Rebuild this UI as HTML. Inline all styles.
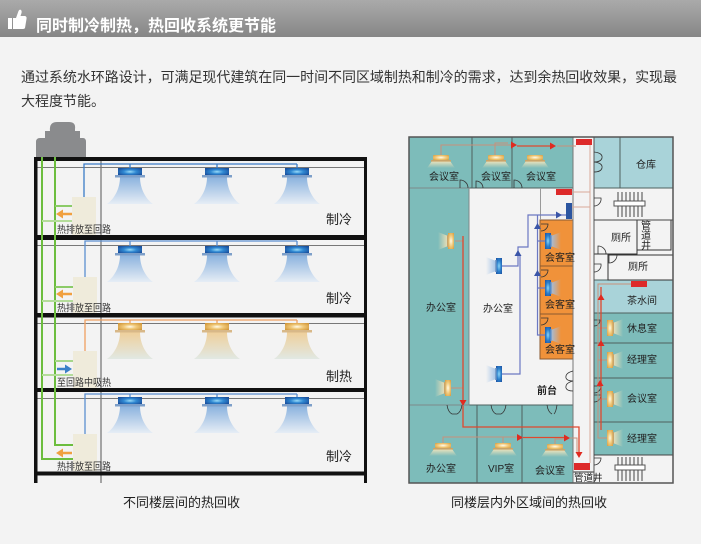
<!DOCTYPE html>
<html><head><meta charset="utf-8">
<style>
html,body{margin:0;padding:0;background:#f3f3f3;width:701px;height:544px;overflow:hidden}
svg{display:block}
text{font-family:"Liberation Sans","Noto Sans CJK SC",sans-serif}
</style></head><body>
<svg width="701" height="544" viewBox="0 0 701 544" xmlns="http://www.w3.org/2000/svg">
<defs>
<linearGradient id="hdr" x1="0" y1="0" x2="0" y2="1"><stop offset="0" stop-color="#aaaaaa"/><stop offset="1" stop-color="#868686"/></linearGradient>
<radialGradient id="bb" cx="0.5" cy="0.5" r="0.6"><stop offset="0" stop-color="#9adcf8"/><stop offset="0.45" stop-color="#2f88d2"/><stop offset="1" stop-color="#1a4f9c"/></radialGradient>
<linearGradient id="bc" x1="0" y1="0" x2="0" y2="1"><stop offset="0" stop-color="#8ab2de"/><stop offset="1" stop-color="#e6edf5"/></linearGradient>
<radialGradient id="hb" cx="0.5" cy="0.5" r="0.6"><stop offset="0" stop-color="#fffbea"/><stop offset="0.45" stop-color="#f0c878"/><stop offset="1" stop-color="#d39a3e"/></radialGradient>
<linearGradient id="hc" x1="0" y1="0" x2="0" y2="1"><stop offset="0" stop-color="#efcf9a"/><stop offset="1" stop-color="#e1e8e3"/></linearGradient>
<linearGradient id="tg" x1="0" y1="0" x2="0" y2="1"><stop offset="0" stop-color="#f6e6bc" stop-opacity="0.95"/><stop offset="1" stop-color="#f6e6bc" stop-opacity="0"/></linearGradient>
<linearGradient id="gl" x1="1" y1="0" x2="0" y2="0"><stop offset="0" stop-color="#f3e2b8" stop-opacity="0.95"/><stop offset="1" stop-color="#f3e2b8" stop-opacity="0"/></linearGradient>
<linearGradient id="gr" x1="0" y1="0" x2="1" y2="0"><stop offset="0" stop-color="#f3e2b8" stop-opacity="0.95"/><stop offset="1" stop-color="#f3e2b8" stop-opacity="0"/></linearGradient>
<linearGradient id="bgl" x1="1" y1="0" x2="0" y2="0"><stop offset="0" stop-color="#9fc0e6" stop-opacity="0.95"/><stop offset="1" stop-color="#9fc0e6" stop-opacity="0"/></linearGradient>
<linearGradient id="bgr" x1="0" y1="0" x2="1" y2="0"><stop offset="0" stop-color="#9fc0e6" stop-opacity="0.95"/><stop offset="1" stop-color="#9fc0e6" stop-opacity="0"/></linearGradient>
<radialGradient id="sbb" cx="0.5" cy="0.5" r="0.7"><stop offset="0" stop-color="#8fd8f8"/><stop offset="0.5" stop-color="#2a7fcc"/><stop offset="1" stop-color="#1d4f9e"/></radialGradient>
<radialGradient id="shb" cx="0.5" cy="0.5" r="0.7"><stop offset="0" stop-color="#fffbea"/><stop offset="0.5" stop-color="#f0c878"/><stop offset="1" stop-color="#d49a3e"/></radialGradient>

<g id="cu">
<path d="M-10,9 C-10,22 -17,32 -23,36 L23,36 C17,32 10,22 10,9 Z" fill="url(#bc)"/>
<rect x="-12" y="0" width="24" height="7.5" fill="url(#bb)"/>
<rect x="-15" y="7" width="30" height="2.5" fill="#7d9fc9"/>
</g>
<g id="hu">
<path d="M-10,9 C-10,22 -17,32 -23,36 L23,36 C17,32 10,22 10,9 Z" fill="url(#hc)"/>
<rect x="-12" y="0" width="24" height="7.5" fill="url(#hb)"/>
<rect x="-15" y="7" width="30" height="2.5" fill="#d8b888"/>
</g>
<g id="tu">
<path d="M-9,6 L9,6 L14,13 L-14,13 Z" fill="url(#tg)"/>
<rect x="-8" y="0" width="16" height="5" rx="1" fill="url(#shb)"/>
<rect x="-10" y="5" width="20" height="1.6" fill="#c9a46a"/>
</g>
<g id="sl">
<path d="M0,-5 L-10,-9 L-10,9 L0,5 Z" fill="url(#gl)"/>
<rect x="0" y="-8" width="6" height="16" fill="url(#shb)"/>
<rect x="-1" y="-6" width="1.5" height="12" fill="#c9a46a"/>
</g>
<g id="sr">
<path d="M0,-5 L10,-9 L10,9 L0,5 Z" fill="url(#gr)"/>
<rect x="-6" y="-8" width="6" height="16" fill="url(#shb)"/>
<rect x="-0.5" y="-6" width="1.5" height="12" fill="#c9a46a"/>
</g>
<g id="bl">
<path d="M0,-5 L-10,-9 L-10,9 L0,5 Z" fill="url(#bgl)"/>
<rect x="0" y="-8" width="6" height="16" fill="url(#sbb)"/>
<rect x="-1" y="-6" width="1.5" height="12" fill="#7d9fc9"/>
</g>
<g id="br">
<path d="M0,-5 L10,-9 L10,9 L0,5 Z" fill="url(#bgr)"/>
<rect x="-6" y="-8" width="6" height="16" fill="url(#sbb)"/>
<rect x="-0.5" y="-6" width="1.5" height="12" fill="#7d9fc9"/>
</g>
</defs>

<!-- header -->
<rect x="0" y="0" width="701" height="37" fill="url(#hdr)"/>
<path d="M8,18 H12 V29 H8 Z M13,18 L16,18 L18.5,11 Q19.5,9 21,10 Q22,11 21.5,13 L20.5,16 L25,16 Q27,16.5 26.5,19 L25,28 Q24.5,29 23,29 L13,29 Z" fill="#fff"/>
<text x="36" y="31" font-size="16" font-weight="bold" fill="#fff" textLength="240" lengthAdjust="spacingAndGlyphs">同时制冷制热，热回收系统更节能</text>

<!-- paragraph -->
<text x="21" y="82" font-size="14" fill="#333" textLength="656" lengthAdjust="spacing">通过系统水环路设计，可满足现代建筑在同一时间不同区域制热和制冷的需求，达到余热回收效果，实现最</text>
<text x="21" y="106" font-size="14" fill="#333">大程度节能。</text>

<!-- ================= LEFT DIAGRAM ================= -->
<path d="M50,131 Q49,122 57,122 L69,122 Q76,122 75,129 L75,131 L80,131 L80,138 L83,138 Q86,138 86,142 L86,157 L36,157 L36,142 Q36,138 40,138 L45,138 L45,131 Z" fill="#8a8b8d"/>

<line x1="101" y1="157" x2="101" y2="483" stroke="#8a8a8a" stroke-width="1.5"/>
<g stroke="#777" stroke-width="1">
<line x1="37" y1="167.5" x2="364" y2="167.5"/>
<line x1="37" y1="245.5" x2="364" y2="245.5"/>
<line x1="37" y1="323.5" x2="364" y2="323.5"/>
<line x1="37" y1="398.5" x2="364" y2="398.5"/>
</g>
<g fill="#111">
<rect x="34" y="157" width="333" height="4"/>
<rect x="34" y="235" width="333" height="5"/>
<rect x="34" y="313" width="333" height="4.5"/>
<rect x="34" y="388" width="333" height="4"/>
<rect x="34" y="471.5" width="333" height="4"/>
<rect x="34" y="157" width="3.5" height="326"/>
<rect x="364" y="157" width="3" height="326"/>
</g>

<g fill="none" stroke-width="2">
<path d="M42,157 V459 H73" stroke="#6cbd3e"/>
<path d="M55,157 V445 H73" stroke="#6cbd3e"/>
<path d="M55,206 H72" stroke="#8ccb68"/>
<path d="M42,221 H72" stroke="#b4dc9a"/>
<path d="M55,287 H73" stroke="#8ccb68"/>
<path d="M42,301 H73" stroke="#b4dc9a"/>
<path d="M55,361 H73" stroke="#a6d68a"/>
<path d="M42,375 H73" stroke="#b4dc9a"/>
</g>

<g fill="none" stroke-width="1.3">
<path d="M84,197 V164 H297 M130,164 V168 M217,164 V168 M297,164 V168" stroke="#3b7cc6"/>
<path d="M85,277 V241 H297 M130,241 V246 M217,241 V246 M297,241 V246" stroke="#5b8fd0"/>
<path d="M85,351 V320 H297 M130,320 V323 M217,320 V323 M297,320 V323" stroke="#f0a060"/>
<path d="M85,434 V394 H297 M130,394 V397 M217,394 V397 M297,394 V397" stroke="#5b8fd0"/>
</g>

<use href="#cu" x="130" y="168"/><use href="#cu" x="217" y="168"/><use href="#cu" x="297" y="168"/>
<use href="#cu" x="130" y="246"/><use href="#cu" x="217" y="246"/><use href="#cu" x="297" y="246"/>
<use href="#hu" x="130" y="323"/><use href="#hu" x="217" y="323"/><use href="#hu" x="297" y="323"/>
<use href="#cu" x="130" y="397"/><use href="#cu" x="217" y="397"/><use href="#cu" x="297" y="397"/>

<g fill="#efebdb">
<rect x="72" y="197" width="24" height="38"/>
<rect x="73" y="277" width="24" height="36"/>
<rect x="73" y="351" width="24" height="37"/>
<rect x="73" y="434" width="24" height="37"/>
</g>

<g stroke-width="2.5">
<line x1="62" y1="214" x2="72" y2="214" stroke="#f0a040"/>
<line x1="62" y1="294" x2="72" y2="294" stroke="#f0a040"/>
<line x1="57" y1="369" x2="66" y2="369" stroke="#3a80c8"/>
<line x1="62" y1="453" x2="72" y2="453" stroke="#f0a040"/>
</g>
<polygon points="56,214 63,209.5 63,218.5" fill="#f0a040"/>
<polygon points="56,294 63,289.5 63,298.5" fill="#f0a040"/>
<polygon points="72,369 65,364.5 65,373.5" fill="#3a80c8"/>
<polygon points="56,453 63,448.5 63,457.5" fill="#f0a040"/>

<g font-size="10" fill="#333">
<text x="57" y="233" textLength="54" lengthAdjust="spacingAndGlyphs">热排放至回路</text>
<text x="57" y="311.5" textLength="54" lengthAdjust="spacingAndGlyphs">热排放至回路</text>
<text x="57" y="386" textLength="54" lengthAdjust="spacingAndGlyphs">至回路中吸热</text>
<text x="57" y="470" textLength="54" lengthAdjust="spacingAndGlyphs">热排放至回路</text>
</g>
<g font-size="13" fill="#222">
<text x="326" y="224">制冷</text>
<text x="326" y="303">制冷</text>
<text x="326" y="381">制热</text>
<text x="326" y="461">制冷</text>
</g>
<text x="123" y="507" font-size="13" fill="#222">不同楼层间的热回收</text>

<!-- ================= RIGHT DIAGRAM ================= -->
<rect x="409" y="137" width="264" height="346" fill="#f3f3f3"/>
<g stroke="#4e605f" stroke-width="1">
<rect x="409" y="137" width="63" height="51" fill="#7dbcba"/>
<rect x="472" y="137" width="40" height="51" fill="#7dbcba"/>
<rect x="512" y="137" width="61" height="51" fill="#7dbcba"/>
<rect x="594" y="137" width="26" height="51" fill="#a9d3d9"/>
<rect x="620" y="137" width="53" height="51" fill="#a9d3d9"/>
<rect x="409" y="405" width="68" height="78" fill="#7dbcba"/>
<rect x="477" y="405" width="45" height="78" fill="#7dbcba"/>
<rect x="522" y="405" width="51" height="78" fill="#7dbcba"/>
<rect x="594" y="280" width="79" height="33" fill="#a9d3d9"/>
<rect x="594" y="313" width="79" height="30" fill="#7dbcba"/>
<rect x="594" y="343" width="79" height="35" fill="#7dbcba"/>
<rect x="594" y="378" width="79" height="44" fill="#7dbcba"/>
<rect x="594" y="422" width="79" height="33" fill="#7dbcba"/>
<rect x="594" y="220" width="43" height="34" fill="none" stroke="#333"/>
<rect x="637" y="220" width="34" height="30" fill="none" stroke="#333"/>
<rect x="608" y="255" width="65" height="25" fill="none" stroke="#333"/>
<rect x="573" y="472" width="21" height="11" fill="none" stroke="#333"/>
</g>
<rect x="409" y="188" width="60" height="217" fill="#7dbcba" stroke="#7d8a8a" stroke-width="1"/>
<g stroke="#8a5a30" stroke-width="1" fill="#f0923a">
<rect x="540" y="220" width="33" height="46"/>
<rect x="540" y="266" width="33" height="48"/>
<rect x="540" y="314" width="33" height="45"/>
</g>
<g stroke-width="1" fill="none">
<line x1="540.5" y1="188" x2="540.5" y2="220" stroke="#999"/>
<line x1="573" y1="137" x2="573" y2="483" stroke="#777"/>
<line x1="594" y1="137" x2="594" y2="483" stroke="#555"/>
<line x1="590" y1="145" x2="590" y2="463" stroke="#d9a898"/>
<line x1="572" y1="192" x2="590" y2="192" stroke="#d9a898"/>
<line x1="572" y1="207" x2="590" y2="207" stroke="#d9a898"/>
<line x1="594" y1="220" x2="673" y2="220" stroke="#444"/>
<line x1="594" y1="455" x2="673" y2="455" stroke="#444"/>
</g>
<rect x="409" y="137" width="264" height="346" fill="none" stroke="#555" stroke-width="1.5"/>

<g stroke="#444" stroke-width="1">
<path d="M618,192 V217 M622,192 V217 M626,192 V217 M630,192 V217 M634,192 V217 M638,192 V217 M642,192 V217"/>
<path d="M618,457 V481 M622,457 V481 M626,457 V481 M630,457 V481 M634,457 V481 M638,457 V481 M642,457 V481"/>
</g>
<rect x="614" y="201" width="31" height="5" fill="#fff" stroke="#555"/>
<rect x="615" y="465" width="30" height="5" fill="#fff" stroke="#555"/>

<g stroke="#333" stroke-width="0.8" fill="none">
<path d="M460,188 V180 A8,8 0 0 1 468,188"/>
<path d="M476,188 V181 A7,7 0 0 1 483,188"/>
<path d="M514,188 V180 A8,8 0 0 1 522,188"/>
<path d="M594,152 Q603,153 602,158 Q601,162 594,162 M594,162 Q603,163 602,168 Q601,172 594,172"/>
<path d="M594,198 H601 A7,7 0 0 1 594,206"/>
<path d="M598,254 V246 A8,8 0 0 1 606,254"/>
<path d="M609,255 V263 A8,8 0 0 0 617,255"/>
<path d="M594,264 H601 A7,7 0 0 1 594,272"/>
<path d="M541,224 H548 A7,7 0 0 1 541,231"/>
<path d="M541,270 H548 A7,7 0 0 1 541,277"/>
<path d="M541,318 H548 A7,7 0 0 1 541,325"/>
<path d="M573,371 Q565,373 566,378 Q567,381 573,381 M573,381 Q565,383 566,388 Q567,391 573,391"/>
<path d="M447,405 Q448,412 452,414 M462,405 Q461,412 457,414 M452,414 H457"/>
<path d="M491,405 Q492,412 496,414 M506,405 Q505,412 501,414 M496,414 H501"/>
<path d="M547,405 Q548,412 552,414 M557,405 Q556,412 554,414"/>
<path d="M594,320 H600 A6,6 0 0 1 594,326"/>
<path d="M594,386 H601 A7,7 0 0 1 594,393"/>
<path d="M594,395 H601 A7,7 0 0 1 594,402"/>
<path d="M594,458 H601 A7,7 0 0 1 594,465"/>
</g>

<g fill="none" stroke-width="1">
<path d="M441,157 V145 H511" stroke="#c9907a"/>
<path d="M495,157 V143 H508" stroke="#c9907a"/>
<path d="M557,146 H576" stroke="#c9907a"/>
<path d="M455,241 H463 M451,388 H463" stroke="#c9907a"/>
<path d="M443,447 V437 H517 M503,447 V437 M555,447 V439 H564 M570,438 H577 V452" stroke="#c9907a"/>
<path d="M631,284 H598 V438 H607 M598,328 H607 M598,360 H607 M598,399 H607" stroke="#c9907a"/>
</g>
<g fill="none" stroke="#e0482e" stroke-width="1.3">
<path d="M517,146 H550"/>
<path d="M463,236 V400 M463,406 V427 H579 V452"/>
<path d="M523,437.5 H564"/>
<path d="M601,287 V430"/>
</g>
<g fill="#e02a20">
<polygon points="511,141.5 517,145 511,148.5"/>
<polygon points="550,142.5 556,146 550,149.5"/>
<polygon points="517,434 523,437.5 517,441"/>
<polygon points="564,434.5 570,438 564,441.5"/>
<polygon points="459.5,400 466.5,400 463,406"/>
<polygon points="575.5,452 582.5,452 579,458"/>
<polygon points="597.5,300 604.5,300 601,294"/>
<polygon points="597.5,346 604.5,346 601,340"/>
<polygon points="596.5,386 603.5,386 600,380"/>
</g>
<g fill="#dd2a2a">
<rect x="576" y="139" width="16" height="6"/>
<rect x="556" y="189" width="16" height="6"/>
<rect x="631" y="281" width="16" height="6"/>
<rect x="574" y="463" width="16" height="7"/>
</g>
<rect x="566" y="203" width="6" height="16" fill="#2b55a0"/>

<g fill="none" stroke="#6b78c2" stroke-width="1.2">
<path d="M502,266 H518 V247 H528 V215 H566"/>
<path d="M502,374 H520 V256"/>
<path d="M545,335 H537.5 V215 M545,288 H537.5 M545,241 H537.5"/>
</g>
<g fill="#3a55a8">
<polygon points="514.5,256 521.5,256 518,250"/>
<polygon points="534,229 541,229 537.5,223"/>
<polygon points="534,276 541,276 537.5,270"/>
<polygon points="556,211.5 562,215 556,218.5"/>
</g>

<use href="#tu" x="441" y="155"/>
<use href="#tu" x="496" y="155"/>
<use href="#tu" x="535" y="155"/>
<use href="#tu" x="443" y="443"/>
<use href="#tu" x="503" y="443"/>
<use href="#tu" x="555" y="444"/>
<use href="#sl" x="448" y="241"/>
<use href="#sl" x="445" y="388"/>
<use href="#bl" x="496" y="266"/>
<use href="#bl" x="496" y="374"/>
<use href="#br" x="551" y="241"/>
<use href="#br" x="551" y="288"/>
<use href="#br" x="551" y="335"/>
<use href="#sr" x="613" y="328"/>
<use href="#sr" x="613" y="360"/>
<use href="#sr" x="613" y="399"/>
<use href="#sr" x="613" y="438"/>

<g font-size="10" fill="#222">
<text x="429" y="180">会议室</text>
<text x="481" y="180">会议室</text>
<text x="526" y="180">会议室</text>
<text x="636" y="168">仓库</text>
<text x="611" y="241">厕所</text>
<text x="641" y="229">管</text>
<text x="641" y="239">道</text>
<text x="641" y="249">井</text>
<text x="628" y="270">厕所</text>
<text x="627" y="304">茶水间</text>
<text x="627" y="332">休息室</text>
<text x="627" y="363">经理室</text>
<text x="627" y="402">会议室</text>
<text x="627" y="442">经理室</text>
<text x="426" y="311">办公室</text>
<text x="483" y="312">办公室</text>
<text x="545" y="261">会客室</text>
<text x="545" y="308">会客室</text>
<text x="545" y="353">会客室</text>
<text x="537" y="394" font-weight="bold">前台</text>
<text x="426" y="472">办公室</text>
<text x="488" y="472">VIP室</text>
<text x="535" y="474">会议室</text>
<text x="574" y="481" font-size="9.5">管道井</text>
</g>
<text x="451" y="507" font-size="13" fill="#222">同楼层内外区域间的热回收</text>
</svg>
</body></html>
